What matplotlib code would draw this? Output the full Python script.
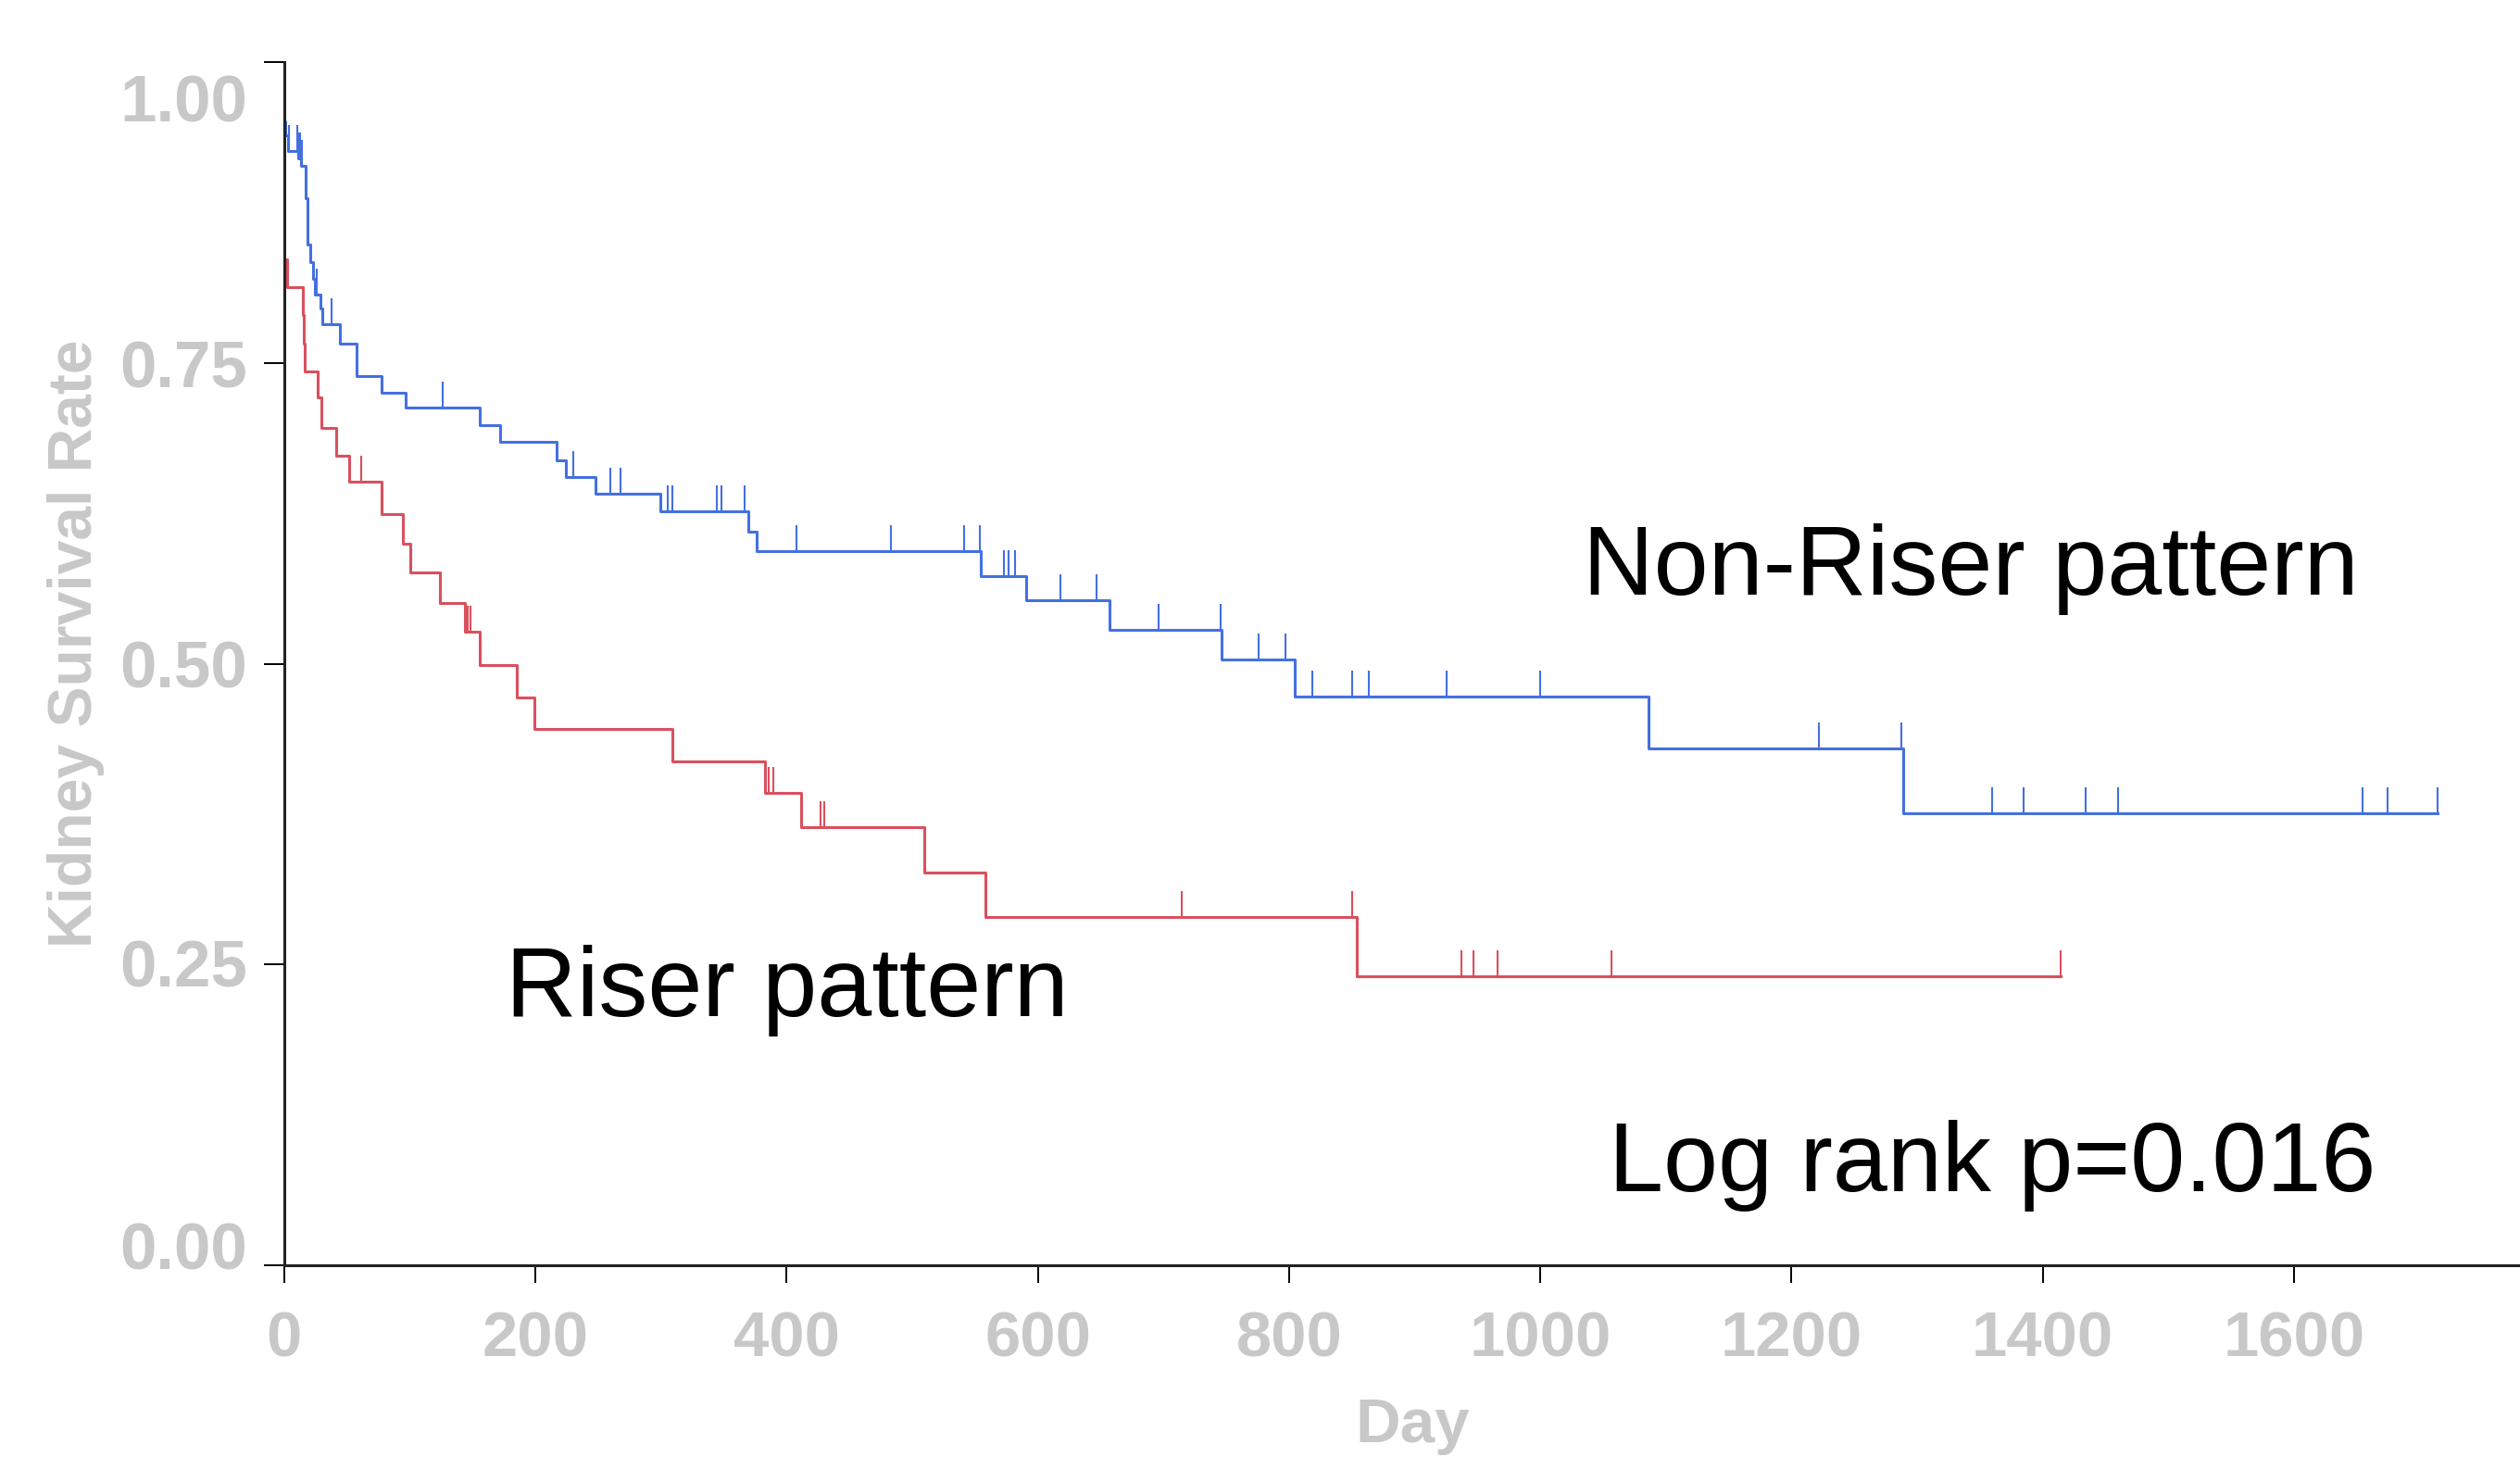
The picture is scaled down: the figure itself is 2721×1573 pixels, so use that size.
import matplotlib
matplotlib.use("Agg")
import matplotlib.pyplot as plt
import numpy as np

# Kaplan-Meier steps (day, survival)
nonriser_t = [0, 1, 3, 11, 13.5, 17, 18.2, 18.7, 20.6, 23, 24.5, 28.5, 30, 44.6, 57.3, 77.2,
              96.7, 156, 171.6, 216.9, 224.5, 247.8, 299.4, 369.8, 376, 554.7, 590.7, 657,
              746, 804.4, 1086, 1289]
nonriser_s = [0.951, 0.939, 0.926, 0.920, 0.9135, 0.887, 0.860, 0.848, 0.8335, 0.820, 0.807,
              0.7955, 0.782, 0.766, 0.739, 0.725, 0.713, 0.6985, 0.684, 0.669, 0.655, 0.641,
              0.6264, 0.6097, 0.5935, 0.573, 0.5525, 0.5281, 0.5037, 0.4724, 0.4293, 0.3759]
nonriser_cens = [3.4, 10.3, 11.5, 12.5, 14, 25.5, 37.6, 126.3, 230.4, 259.6, 267.7, 305, 309.2,
                 344.4, 348, 366.4, 407.8, 482.7, 541.3, 553.5, 573, 577, 582, 618, 646.6,
                 696.4, 745.5, 775.7, 796.8, 818.5, 850.3, 863.8, 925.1, 1000, 1221.8, 1287.2,
                 1359.4, 1385, 1434, 1459.7, 1654.9, 1674.3, 1714.1]

riser_t = [0, 2, 14.5, 15.5, 16.5, 26.8, 29.5, 41.5, 51.4, 77.2, 94.5, 100.5, 124.2, 144.1,
           156, 185, 199, 309, 382.4, 411.7, 509.6, 558.5, 853.9]
riser_s = [0.836, 0.813, 0.790, 0.766, 0.743, 0.721, 0.696, 0.673, 0.651, 0.624, 0.5995,
           0.5756, 0.5504, 0.5263, 0.4991, 0.4722, 0.446, 0.419, 0.3926, 0.3639, 0.3266,
           0.2894, 0.2402]
riser_cens = [61.5, 146.3, 148.3, 385.5, 389.2, 427, 430, 714.5, 850.2, 937, 946.5, 965.7,
              1056.8, 1414.5]

x_ticks = [0, 200, 400, 600, 800, 1000, 1200, 1400, 1600]
y_ticks = [0.0, 0.25, 0.5, 0.75, 1.0]
y_labels = ["0.00", "0.25", "0.50", "0.75", "1.00"]

blue = "#4470E0"
red = "#D9505E"
grey = "#C8C8C8"

fig = plt.figure(figsize=(27.21, 15.73), dpi=100)
ax = fig.add_axes([0.1128, 0.1316, 0.8872, 0.8258])


def km(t, s, cens, color):
    t = np.array(t)
    s = np.array(s)
    cens = np.array(cens)
    end = max(t[-1], cens.max())
    ax.step(np.append(t, end), np.append(s, s[-1]), where="post", color=color, lw=2.2)
    lvl = s[np.searchsorted(t, cens, side="right") - 1]
    ax.vlines(cens, lvl, lvl + 0.0216, color=color, lw=1.5)


km(nonriser_t, nonriser_s, nonriser_cens, blue)
km(riser_t, riser_s, riser_cens, red)

ax.set_xlim(0, 1780)
ax.set_ylim(0, 1)
for side in ["top", "right"]:
    ax.spines[side].set_visible(False)
for side in ["left", "bottom"]:
    ax.spines[side].set_linewidth(2.2)
    ax.spines[side].set_color("#222222")

lab_font = dict(family="Liberation Sans", weight="bold", color=grey)

ax.set_xticks(x_ticks)
ax.set_xticklabels([str(v) for v in x_ticks], fontsize=49.5, **lab_font)
ax.tick_params(axis="x", length=13.7, width=1.4, pad=21)
ax.set_yticks(y_ticks)
ax.set_yticklabels([])
ax.tick_params(axis="y", length=15.8, width=1.4)

# y labels sit a little off their ticks in the original
label_pos = [0.016, 0.251, 0.500, 0.749, 0.970]
for p, lab in zip(label_pos, y_labels):
    ax.text(-0.0165, p, lab, transform=ax.get_yaxis_transform(), ha="right",
            va="center_baseline", fontsize=51, **lab_font)

ax.set_ylabel("Kidney Survival Rate", fontsize=47.5, **lab_font)
ax.yaxis.set_label_coords(-0.0804, 0.517)
ax.set_xlabel("Day", fontsize=48.5, **lab_font)
ax.xaxis.set_label_coords(0.5046, -0.110)

txt = dict(family="Liberation Sans", fontsize=76.3, color="black", va="baseline", ha="left")
ax.text(1034, 0.5576, "Non-Riser pattern", **txt)
ax.text(176.5, 0.2073, "Riser pattern", **txt)
ax.text(1054.6, 0.0616, "Log rank p=0.016", **txt)

fig.savefig("out.png", dpi=100)
